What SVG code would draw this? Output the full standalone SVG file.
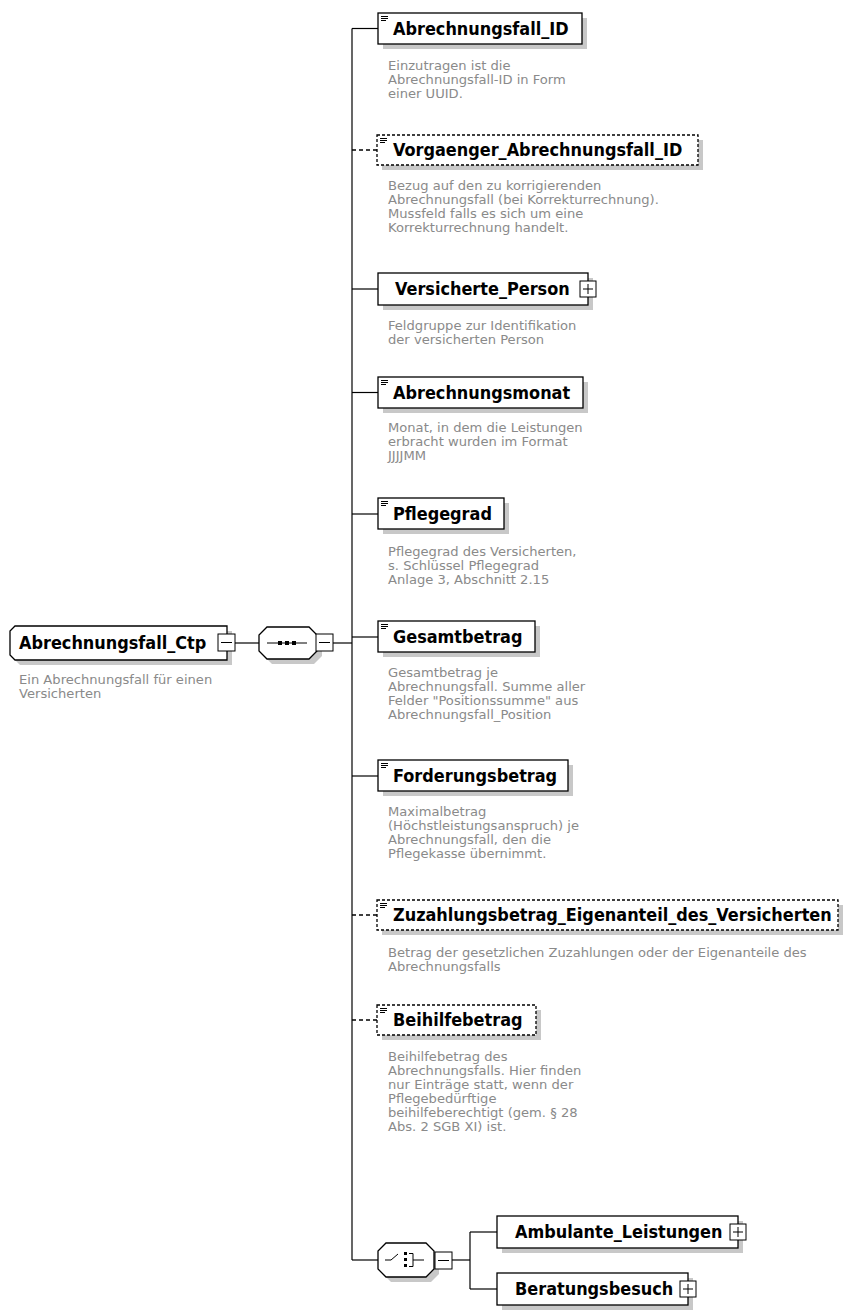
<svg xmlns="http://www.w3.org/2000/svg" width="849" height="1315" viewBox="0 0 849 1315">
<defs>
<style>
.t{font-family:'DejaVu Sans Condensed','DejaVu Sans',sans-serif;font-stretch:condensed;font-weight:bold;font-size:17.9px;fill:#000}
.d{font-family:'DejaVu Sans',sans-serif;font-size:13.1px;fill:#8a8a8a}
.box{fill:#fff;stroke:#000;stroke-width:1.3}
.dbox{fill:#fff;stroke:#000;stroke-width:1.3;stroke-dasharray:3 2}
.sh{fill:#c8c8c8}
.ln{stroke:#000;stroke-width:1.2;fill:none}
.dl{stroke:#000;stroke-width:1.3;fill:none;stroke-dasharray:4 3}
.pm{fill:#fff;stroke:#000;stroke-width:1}
.ic{stroke:#000;stroke-width:1;fill:none}
</style>
</defs>
<rect width="849" height="1315" fill="#fff"/>

<g id="connectors">
<line class="ln" x1="235" y1="643" x2="259" y2="643"/>
<line class="ln" x1="333" y1="643" x2="352" y2="643"/>
<line class="ln" x1="352" y1="28.5" x2="352" y2="1260"/>
<line class="ln" x1="352" y1="28.5" x2="378" y2="28.5"/>
<line class="dl" x1="352" y1="150" x2="377" y2="150"/>
<line class="ln" x1="352" y1="289" x2="378" y2="289"/>
<line class="ln" x1="352" y1="392.5" x2="378" y2="392.5"/>
<line class="ln" x1="352" y1="514" x2="378" y2="514"/>
<line class="ln" x1="352" y1="637" x2="378" y2="637"/>
<line class="ln" x1="352" y1="776" x2="378" y2="776"/>
<line class="dl" x1="352" y1="915" x2="377" y2="915"/>
<line class="dl" x1="352" y1="1020" x2="377" y2="1020"/>
<line class="ln" x1="352" y1="1260" x2="378" y2="1260"/>
<line class="ln" x1="452" y1="1260" x2="470" y2="1260"/>
<line class="ln" x1="470" y1="1232" x2="470" y2="1289"/>
<line class="ln" x1="470" y1="1232" x2="497" y2="1232"/>
<line class="ln" x1="470" y1="1289" x2="497" y2="1289"/>
</g>

<g id="root">
<path class="sh" d="M20,631 L232,631 L232,665 L20,665 L15,660 L15,636 Z"/>
<path class="box" d="M15,626 L227,626 L227,660 L15,660 L10,655 L10,631 Z"/>
<text class="t" x="19" y="649">Abrechnungsfall_Ctp</text>
<rect class="pm" x="218" y="634" width="17" height="17"/>
<line class="ic" x1="221" y1="642.5" x2="232" y2="642.5"/>
<text class="d" x="19" y="684">Ein Abrechnungsfall für einen</text>
<text class="d" x="19" y="698">Versicherten</text>
</g>

<g id="sequence">
<path class="sh" d="M272,632 L314,632 L322,640 L322,656 L314,664 L272,664 L264,656 L264,640 Z"/>
<path class="box" d="M267,627 L309,627 L317,635 L317,651 L309,659 L267,659 L259,651 L259,635 Z"/>
<line class="ic" x1="267" y1="643" x2="307" y2="643"/>
<rect x="278" y="641" width="4" height="4"/>
<rect x="285" y="641" width="4" height="4"/>
<rect x="292" y="641" width="4" height="4"/>
<rect class="pm" x="316" y="634" width="17" height="17"/>
<line class="ic" x1="319" y1="642.5" x2="330" y2="642.5"/>
</g>

<g id="n1">
<rect class="sh" x="383" y="18" width="204" height="31"/>
<rect class="box" x="378" y="13" width="204" height="31"/>
<g class="ic"><line x1="381" y1="16.5" x2="388" y2="16.5"/><line x1="381" y1="18.5" x2="388" y2="18.5"/><line x1="381" y1="20.5" x2="386" y2="20.5"/></g>
<text class="t" x="393" y="35">Abrechnungsfall_ID</text>
<text class="d" x="388" y="70">Einzutragen ist die</text>
<text class="d" x="388" y="84">Abrechnungsfall-ID in Form</text>
<text class="d" x="388" y="98">einer UUID.</text>
</g>

<g id="n2">
<rect class="sh" x="382" y="140" width="321" height="30"/>
<rect class="dbox" x="377" y="135" width="321" height="30"/>
<g class="ic"><line x1="380" y1="138.5" x2="387" y2="138.5"/><line x1="380" y1="140.5" x2="387" y2="140.5"/><line x1="380" y1="142.5" x2="385" y2="142.5"/></g>
<text class="t" x="393" y="156">Vorgaenger_Abrechnungsfall_ID</text>
<text class="d" x="388" y="190">Bezug auf den zu korrigierenden</text>
<text class="d" x="388" y="204">Abrechnungsfall (bei Korrekturrechnung).</text>
<text class="d" x="388" y="218">Mussfeld falls es sich um eine</text>
<text class="d" x="388" y="232">Korrekturrechnung handelt.</text>
</g>

<g id="n3">
<rect class="sh" x="383" y="278" width="210" height="32"/>
<rect class="box" x="378" y="273" width="210" height="32"/>
<text class="t" x="395" y="295">Versicherte_Person</text>
<rect class="pm" x="580" y="281" width="16" height="16"/>
<line class="ic" x1="583" y1="289" x2="593" y2="289"/>
<line class="ic" x1="588" y1="284" x2="588" y2="294"/>
<text class="d" x="388" y="330">Feldgruppe zur Identifikation</text>
<text class="d" x="388" y="344">der versicherten Person</text>
</g>

<g id="n4">
<rect class="sh" x="383" y="382" width="205" height="31"/>
<rect class="box" x="378" y="377" width="205" height="31"/>
<g class="ic"><line x1="381" y1="380.5" x2="388" y2="380.5"/><line x1="381" y1="382.5" x2="388" y2="382.5"/><line x1="381" y1="384.5" x2="386" y2="384.5"/></g>
<text class="t" x="393" y="399">Abrechnungsmonat</text>
<text class="d" x="388" y="432">Monat, in dem die Leistungen</text>
<text class="d" x="388" y="446">erbracht wurden im Format</text>
<text class="d" x="388" y="460">JJJJMM</text>
</g>

<g id="n5">
<rect class="sh" x="383" y="503" width="126" height="31"/>
<rect class="box" x="378" y="498" width="126" height="31"/>
<g class="ic"><line x1="381" y1="501.5" x2="388" y2="501.5"/><line x1="381" y1="503.5" x2="388" y2="503.5"/><line x1="381" y1="505.5" x2="386" y2="505.5"/></g>
<text class="t" x="393" y="520">Pflegegrad</text>
<text class="d" x="388" y="556">Pflegegrad des Versicherten,</text>
<text class="d" x="388" y="570">s. Schlüssel Pflegegrad</text>
<text class="d" x="388" y="584">Anlage 3, Abschnitt 2.15</text>
</g>

<g id="n6">
<rect class="sh" x="383" y="626" width="157" height="31"/>
<rect class="box" x="378" y="621" width="157" height="31"/>
<g class="ic"><line x1="381" y1="624.5" x2="388" y2="624.5"/><line x1="381" y1="626.5" x2="388" y2="626.5"/><line x1="381" y1="628.5" x2="386" y2="628.5"/></g>
<text class="t" x="393" y="643">Gesamtbetrag</text>
<text class="d" x="388" y="677">Gesamtbetrag je</text>
<text class="d" x="388" y="691">Abrechnungsfall. Summe aller</text>
<text class="d" x="388" y="705">Felder "Positionssumme" aus</text>
<text class="d" x="388" y="719">Abrechnungsfall_Position</text>
</g>

<g id="n7">
<rect class="sh" x="383" y="765" width="190" height="31"/>
<rect class="box" x="378" y="760" width="190" height="31"/>
<g class="ic"><line x1="381" y1="763.5" x2="388" y2="763.5"/><line x1="381" y1="765.5" x2="388" y2="765.5"/><line x1="381" y1="767.5" x2="386" y2="767.5"/></g>
<text class="t" x="393" y="782">Forderungsbetrag</text>
<text class="d" x="388" y="816">Maximalbetrag</text>
<text class="d" x="388" y="830">(Höchstleistungsanspruch) je</text>
<text class="d" x="388" y="844">Abrechnungsfall, den die</text>
<text class="d" x="388" y="858">Pflegekasse übernimmt.</text>
</g>

<g id="n8">
<rect class="sh" x="382" y="905" width="461" height="30"/>
<rect class="dbox" x="377" y="900" width="461" height="30"/>
<g class="ic"><line x1="380" y1="903.5" x2="387" y2="903.5"/><line x1="380" y1="905.5" x2="387" y2="905.5"/><line x1="380" y1="907.5" x2="385" y2="907.5"/></g>
<text class="t" x="393" y="921">Zuzahlungsbetrag_Eigenanteil_des_Versicherten</text>
<text class="d" x="388" y="957">Betrag der gesetzlichen Zuzahlungen oder der Eigenanteile des</text>
<text class="d" x="388" y="971">Abrechnungsfalls</text>
</g>

<g id="n9">
<rect class="sh" x="382" y="1010" width="159" height="30"/>
<rect class="dbox" x="377" y="1005" width="159" height="30"/>
<g class="ic"><line x1="380" y1="1008.5" x2="387" y2="1008.5"/><line x1="380" y1="1010.5" x2="387" y2="1010.5"/><line x1="380" y1="1012.5" x2="385" y2="1012.5"/></g>
<text class="t" x="393" y="1026">Beihilfebetrag</text>
<text class="d" x="388" y="1061">Beihilfebetrag des</text>
<text class="d" x="388" y="1075">Abrechnungsfalls. Hier finden</text>
<text class="d" x="388" y="1089">nur Einträge statt, wenn der</text>
<text class="d" x="388" y="1103">Pflegebedürftige</text>
<text class="d" x="388" y="1117">beihilfeberechtigt (gem. § 28</text>
<text class="d" x="388" y="1131">Abs. 2 SGB XI) ist.</text>
</g>

<g id="choice">
<path class="sh" d="M391,1248 L431,1248 L439,1256 L439,1274 L431,1282 L391,1282 L383,1274 L383,1256 Z"/>
<path class="box" d="M386,1243 L426,1243 L434,1251 L434,1269 L426,1277 L386,1277 L378,1269 L378,1251 Z"/>
<polyline class="ic" points="385,1260 391,1260 398,1254"/>
<rect x="404" y="1252" width="3" height="3"/>
<rect x="404" y="1258" width="3" height="3"/>
<rect x="404" y="1264" width="3" height="3"/>
<polyline class="ic" points="409,1253.5 413,1253.5 413,1266.5 409,1266.5"/>
<line class="ic" x1="413" y1="1260" x2="424" y2="1260"/>
<rect class="pm" x="435" y="1252" width="17" height="17"/>
<line class="ic" x1="438" y1="1260.5" x2="449" y2="1260.5"/>
</g>

<g id="n10">
<rect class="sh" x="502" y="1221" width="241" height="32"/>
<rect class="box" x="497" y="1216" width="241" height="32"/>
<text class="t" x="515" y="1238">Ambulante_Leistungen</text>
<rect class="pm" x="730" y="1224" width="16" height="16"/>
<line class="ic" x1="733" y1="1232" x2="743" y2="1232"/>
<line class="ic" x1="738" y1="1227" x2="738" y2="1237"/>
</g>

<g id="n11">
<rect class="sh" x="502" y="1278" width="191" height="32"/>
<rect class="box" x="497" y="1273" width="191" height="32"/>
<text class="t" x="515" y="1295">Beratungsbesuch</text>
<rect class="pm" x="680" y="1281" width="16" height="16"/>
<line class="ic" x1="683" y1="1289" x2="693" y2="1289"/>
<line class="ic" x1="688" y1="1284" x2="688" y2="1294"/>
</g>
</svg>
